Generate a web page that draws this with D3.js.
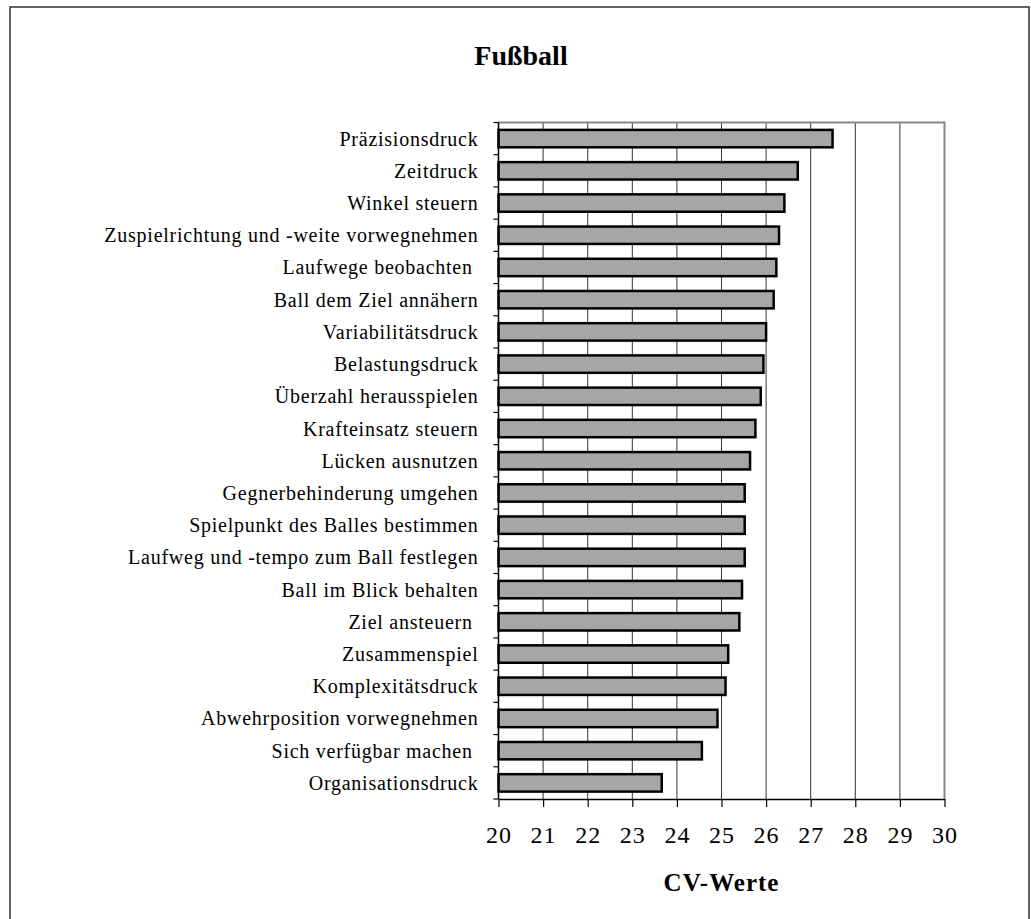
<!DOCTYPE html>
<html>
<head>
<meta charset="utf-8">
<script src="https://cdn.jsdelivr.net/npm/d3@7"></script>
<style>
  html, body { margin: 0; padding: 0; background: #fff; }
  svg text { font-family: "Liberation Serif", "Times New Roman", serif; white-space: pre; }
</style>
</head>
<body>
<svg id="chart" width="1031" height="919"></svg>
<script>
const categories = [
  "Präzisionsdruck",
  "Zeitdruck",
  "Winkel steuern",
  "Zuspielrichtung und -weite vorwegnehmen",
  "Laufwege beobachten ",
  "Ball dem Ziel annähern",
  "Variabilitätsdruck",
  "Belastungsdruck",
  "Überzahl herausspielen",
  "Krafteinsatz steuern",
  "Lücken ausnutzen",
  "Gegnerbehinderung umgehen",
  "Spielpunkt des Balles bestimmen",
  "Laufweg und -tempo zum Ball festlegen",
  "Ball im Blick behalten",
  "Ziel ansteuern ",
  "Zusammenspiel",
  "Komplexitätsdruck",
  "Abwehrposition vorwegnehmen",
  "Sich verfügbar machen ",
  "Organisationsdruck"
];
const values = [27.49, 26.71, 26.41, 26.29, 26.23, 26.17, 26.0, 25.94, 25.88, 25.76,
                25.64, 25.52, 25.52, 25.52, 25.46, 25.40, 25.15, 25.09, 24.91, 24.56, 23.66];
const xTicks = [20, 21, 22, 23, 24, 25, 26, 27, 28, 29, 30];
const title = "Fußball";
const xTitle = "CV-Werte";

(function () {
const svg = d3.select("#chart");
const pL = 498.5, pR = 944.5, pT = 122.5, pB = 799;

const x = d3.scaleLinear().domain([20, 30]).range([pL, pR]);
const y = d3.scaleBand().domain(categories).range([pT, pB]).paddingInner(0.46).paddingOuter(0.23);

// outer border
svg.append("rect").attr("x", 10).attr("y", 7).attr("width", 1019).attr("height", 930)
  .attr("fill", "none").attr("stroke", "#333").attr("stroke-width", 1.5);

// title
svg.append("text").attr("x", 521).attr("y", 65).attr("text-anchor", "middle")
  .attr("font-size", 28).attr("font-weight", "bold").text(title);

// gridlines
svg.append("g").selectAll("line").data(xTicks.slice(1, -1)).join("line")
  .attr("x1", d => x(d)).attr("x2", d => x(d)).attr("y1", pT).attr("y2", pB)
  .attr("stroke", "#333").attr("stroke-width", 1);

// plot border top/right
svg.append("path").attr("d", `M${pL},${pT}H${pR}V${pB}`)
  .attr("fill", "none").attr("stroke", "#888").attr("stroke-width", 2);

// bars
svg.append("g").selectAll("rect").data(categories).join("rect")
  .attr("x", x(20))
  .attr("y", d => y(d))
  .attr("width", (d, i) => x(values[i]) - x(20))
  .attr("height", y.bandwidth())
  .attr("fill", "#a6a6a6").attr("stroke", "#000").attr("stroke-width", 2.5);

// y axis with ticks at band boundaries
const yAxis = svg.append("g");
yAxis.append("line").attr("x1", pL).attr("x2", pL).attr("y1", pT).attr("y2", pB)
  .attr("stroke", "#000").attr("stroke-width", 1.5);
const bounds = d3.range(categories.length + 1).map(i => pT + i * (pB - pT) / categories.length);
yAxis.selectAll("line.t").data(bounds).join("line").attr("class", "t")
  .attr("x1", pL - 5).attr("x2", pL).attr("y1", d => d).attr("y2", d => d)
  .attr("stroke", "#000").attr("stroke-width", 1.2);
yAxis.selectAll("text").data(categories).join("text")
  .attr("x", pL - 20).attr("y", d => y(d) + y.bandwidth() / 2)
  .attr("dy", "0.35em").attr("text-anchor", "end").attr("font-size", 20)
  .attr("letter-spacing", 0.75)
  .text(d => d);

// x axis
const xAxis = d3.axisBottom(x).tickValues(xTicks).tickSize(8).tickPadding(19).tickSizeOuter(0);
const gx = svg.append("g").attr("transform", `translate(0,${pB})`).call(xAxis);
gx.select(".domain").attr("stroke", "#000").attr("stroke-width", 1.5);
gx.selectAll(".tick line").attr("stroke", "#000").attr("stroke-width", 1.2);
gx.selectAll(".tick text").attr("font-size", 24).attr("fill", "#000")
  .attr("letter-spacing", 1)
  .style("font-family", "'Liberation Serif', 'Times New Roman', serif");

svg.append("text").attr("x", (pL + pR) / 2).attr("y", 891).attr("text-anchor", "middle")
  .attr("font-size", 25).attr("font-weight", "bold").attr("letter-spacing", 1).text(xTitle);
})();
</script>
</body>
</html>
